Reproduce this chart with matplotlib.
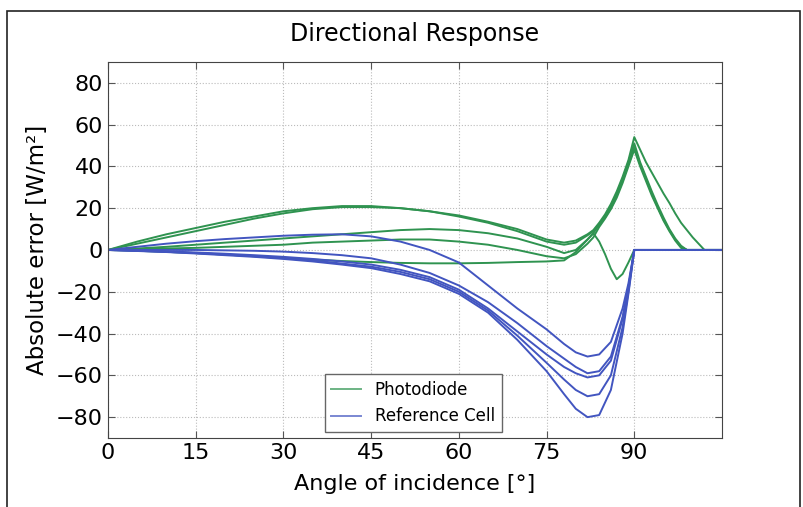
import matplotlib
matplotlib.use('Agg')
import matplotlib.pyplot as plt
from matplotlib.patches import Rectangle

# angles of incidence [deg]
blue_angles = [0, 5, 10, 15, 20, 25, 30, 35, 40, 45, 50, 55, 60, 65, 70, 75,
               78, 80, 82, 84, 86, 88, 89, 90, 105]
green_angles = [0, 5, 10, 15, 20, 25, 30, 35, 40, 45, 50, 55, 60, 65, 70, 75,
                78, 80, 82, 83, 84, 85, 86, 87, 88, 89, 90, 91, 92, 93, 94, 95,
                96, 97, 98, 99, 100, 101, 102, 105]

# photodiode errors [W/m2]
photodiode = [
    [0, 4, 7.5, 10.5, 13.5, 16, 18.5, 20, 21, 21, 20, 18.5, 16.5, 13.5, 10, 5,
     3.5, 4.5, 7.5, 9.5, 13, 17, 22, 28, 35, 43, 54, 48, 42, 37, 32, 27,
     22.5, 17.5, 13, 9.5, 6, 3, 0, 0],
    [0, 3, 6, 9, 12, 15, 17.5, 19.5, 20.5, 20.5, 20, 18.5, 16, 13, 9, 4,
     2.5, 3.5, 7, 9, 12.5, 16, 21, 27, 34, 42, 51, 42, 35, 28, 21.5, 15.5,
     10, 5.5, 2, 0, 0, 0, 0, 0],
    [0, 0.7, 1.5, 2.5, 3.5, 4.5, 5.5, 6.5, 7.5, 8.5, 9.5, 10, 9.5, 8, 5.5, 1.5,
     -1.5, 0, 5, 8, 12, 15.5, 20, 26, 33, 41, 49, 41, 34, 27, 20.5, 14.5,
     9.5, 5, 1.5, 0, 0, 0, 0, 0],
    [0, 0.3, 0.7, 1, 1.5, 2, 2.5, 3.5, 4, 4.5, 5, 5, 4, 2.5, 0, -3,
     -4, -2, 3, 6, 11, 15, 19.5, 25, 32, 40, 48, 40, 33, 26, 20, 14,
     9, 4.5, 1, 0, 0, 0, 0, 0],
    [0, -0.4, -0.9, -1.5, -2.2, -3, -3.8, -4.6, -5.3, -5.8, -6.2, -6.4, -6.4, -6.2, -5.8, -5.5,
     -5, -1, 5, 8, 4, -2, -9, -14, -11.5, -6, 0, 0, 0, 0, 0, 0,
     0, 0, 0, 0, 0, 0, 0, 0],
]

# reference cell errors [W/m2]
reference_cell = [
    [0, 1.5, 3, 4.2, 5.2, 6, 6.8, 7.3, 7.5, 6.5, 4, 0, -6, -17, -28, -38,
     -45, -49, -51, -50, -44, -28, -16, 0, 0],
    [0, 0, 0, 0, -0.2, -0.4, -0.8, -1.5, -2.5, -4, -7, -11, -17, -25, -35, -46,
     -52, -56, -59, -58, -51, -32, -18, 0, 0],
    [0, -0.3, -0.7, -1.2, -1.8, -2.5, -3.3, -4.3, -5.5, -7, -9.5, -13, -19, -28, -39, -50,
     -56, -59, -61, -60, -53, -33, -18, 0, 0],
    [0, -0.4, -0.9, -1.5, -2.2, -3, -4, -5, -6.5, -8, -10.5, -14, -20, -29, -41, -54,
     -62, -67, -70, -69, -60, -37, -20, 0, 0],
    [0, -0.5, -1, -1.7, -2.5, -3.3, -4.3, -5.5, -7, -8.7, -11.5, -15, -21, -30, -43, -58,
     -69, -76, -80, -79, -67, -40, -21, 0, 0],
]

green = '#2f9350'
blue = '#4255c0'

fig = plt.figure(figsize=(8.04, 5.07), dpi=100)
ax = fig.add_axes([0.1343, 0.136, 0.7637, 0.742])

for i, vals in enumerate(photodiode):
    ax.plot(green_angles, vals, color=green, lw=1.4,
            label='Photodiode' if i == 0 else None)
for i, vals in enumerate(reference_cell):
    ax.plot(blue_angles, vals, color=blue, lw=1.4,
            label='Reference Cell' if i == 0 else None)

ax.set_xlim(0, 105)
ax.set_ylim(-90, 90)
ax.set_xticks([0, 15, 30, 45, 60, 75, 90])
ax.set_yticks(range(-80, 81, 20))
ax.tick_params(direction='in', top=True, right=True, labelsize=16, length=5,
               color='#555555')
ax.grid(True, linestyle=':', color='#bbbbbb', lw=0.8)
for s in ax.spines.values():
    s.set_color('#444444')

ax.set_title('Directional Response', fontsize=17, pad=15)
ax.set_xlabel('Angle of incidence [°]', fontsize=16, labelpad=8)
ax.set_ylabel('Absolute error [W/m²]', fontsize=16.5, labelpad=5)

leg = ax.legend(loc='lower center', bbox_to_anchor=(0.497, 0.016),
                borderaxespad=0, fontsize=12, handlelength=1.8,
                fancybox=False, framealpha=1, edgecolor='#666666')
for line in leg.get_lines():
    line.set_alpha(0.7)

fig.patches.append(Rectangle((7 / 804, -0.01), 793 / 804, 1.01 - 11 / 507,
                             transform=fig.transFigure, fill=False,
                             edgecolor='#222222', lw=1.2))

fig.savefig('out.png', dpi=100)
